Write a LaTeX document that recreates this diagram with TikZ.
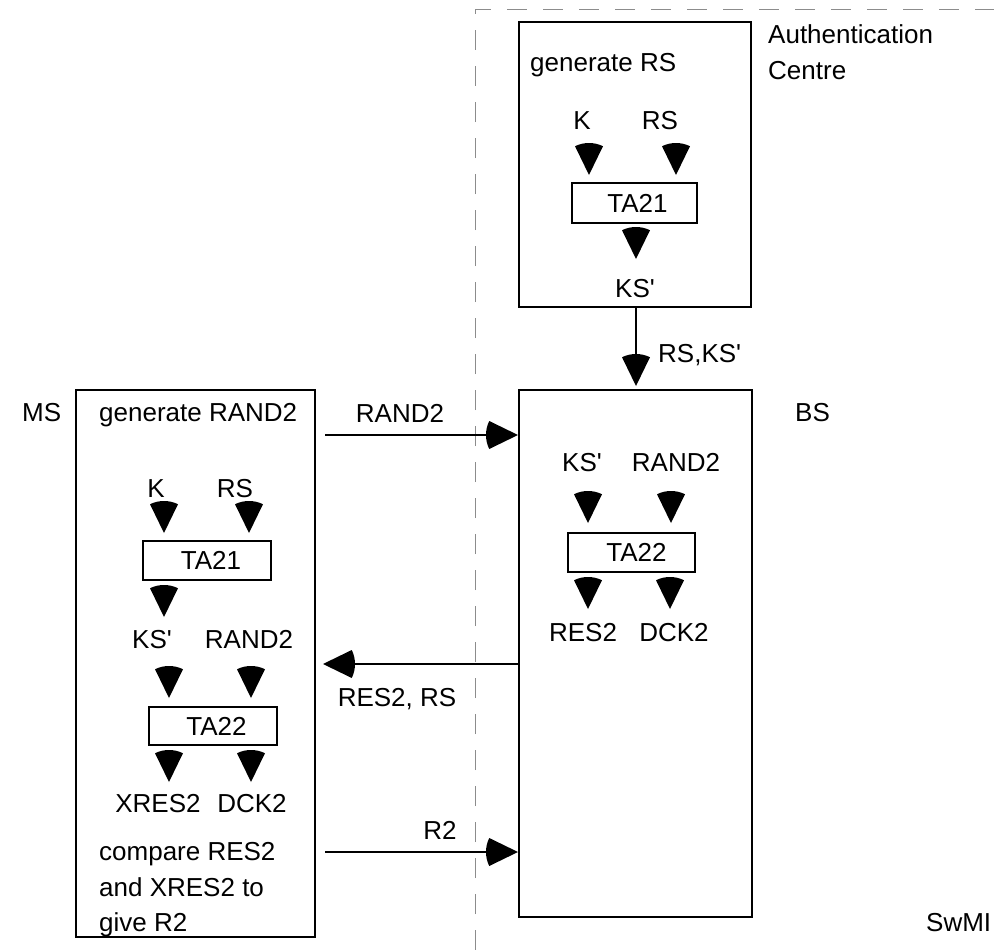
\documentclass[tikz,border=0pt]{standalone}
\usepackage{fontspec}
\setmainfont{Liberation Sans}
\usetikzlibrary{arrows.meta}

% Filled circular-sector arrow head (tip at the origin, curved back)
\pgfdeclarearrow{
  name = Wedge,
  parameters = {\the\pgfarrowlength,\the\pgfarrowwidth},
  setup code = {
    \pgfarrowssettipend{0pt}
    \pgfarrowssetlineend{-.5\pgfarrowlength}
    \pgfarrowssetbackend{-\pgfarrowlength}
    \pgfarrowshullpoint{0pt}{0pt}
    \pgfarrowshullpoint{-\pgfarrowlength}{.5\pgfarrowwidth}
    \pgfarrowshullpoint{-\pgfarrowlength}{-.5\pgfarrowwidth}
    \pgfarrowssavethe\pgfarrowlength
    \pgfarrowssavethe\pgfarrowwidth
  },
  drawing code = {
    \pgfmathsetmacro\wedgehalf{asin(0.5*\pgfarrowwidth/\pgfarrowlength)}
    \pgfmathsetmacro\wedgea{180-\wedgehalf}
    \pgfmathsetmacro\wedgeb{180+\wedgehalf}
    \pgfpathmoveto{\pgfpointorigin}
    \pgfpathlineto{\pgfpointpolar{\wedgea}{\pgfarrowlength}}
    \pgfpatharc{\wedgea}{\wedgeb}{\pgfarrowlength}
    \pgfpathclose
    \pgfusepathqfill
  },
  defaults = {length = 32pt, width = 28pt}
}

% straight prime as printed in the key names
\newcommand{\prm}{\textquotesingle}

\begin{document}
\begin{tikzpicture}[x=1pt, y=-1pt,
  font=\fontsize{26}{31}\selectfont,
  lbl/.style={anchor=base, inner sep=0pt},
  lblw/.style={anchor=base west, inner sep=0pt},
  frame/.style={draw, line width=2pt, inner sep=0pt, outer sep=0pt, anchor=north west},
  fnbox/.style={draw, line width=2pt, inner sep=0pt, outer sep=0pt},
  flow/.style={line width=2pt, -{Wedge}},
  feed/.style={line width=0.6pt, -{Wedge}},
  swmiedge/.style={draw=black!45, line width=1pt, dash pattern=on 20pt off 16pt}
]
\useasboundingbox (0,0) rectangle (994,950);

% SwMI domain boundary
\coordinate (dtop) at (475,10);
\coordinate (dbot) at (475,950);
\coordinate (dright) at (994,10);
\draw[swmiedge] (dbot) -- (dtop) -- (dright);

% ---------- Authentication Centre ----------
\node[frame, minimum width=232pt, minimum height=285pt] (auc) at (519,22) {};
\node[lblw] (genrs) at (530,71) {generate RS};
\node[lblw] (authc) at (768,44) {Authentication};
\node[lblw] (centre) at (768,80) {Centre};
\node[lbl] (aK) at (582,129) {K};
\node[lbl] (aRS) at (660,129) {RS};
\node[fnbox, minimum width=125pt, minimum height=40pt] (aTA) at (634.5,203) {\hspace{6pt}TA21};
\node[lbl] (aKS) at (635,297) {KS\prm};
\draw[feed] (589,143) -- (589,175);
\draw[feed] (676,143) -- (676,175);
\draw[feed] (636,227) -- (636,259);

% ---------- Base station ----------
\node[frame, minimum width=233pt, minimum height=527pt] (bs) at (519,390) {};
\node[lblw] (bsl) at (795,421) {BS};
\node[lbl] (bKS) at (582,471) {KS\prm};
\node[lbl] (bRAND) at (676,471) {RAND2};
\node[fnbox, minimum width=127pt, minimum height=39pt] (bTA) at (631.5,552.5) {\hspace{10pt}TA22};
\node[lbl] (bRES) at (583,641) {RES2};
\node[lbl] (bDCK) at (674,641) {DCK2};
\draw[feed] (588,491) -- (588,523);
\draw[feed] (671,491) -- (671,523);
\draw[feed] (588,577) -- (588,609);
\draw[feed] (670,577) -- (670,609);

% ---------- Mobile station ----------
\node[frame, minimum width=239pt, minimum height=547pt] (ms) at (76,390) {};
\node[lblw] (msl) at (22,421) {MS};
\node[lblw] (genrand) at (99,421) {generate RAND2};
\node[lbl] (mK) at (156,497) {K};
\node[lbl] (mRS) at (235,497) {RS};
\node[fnbox, minimum width=128pt, minimum height=39pt] (mTA1) at (207,560.5) {\hspace{8pt}TA21};
\node[lbl] (mKS) at (152,648) {KS\prm};
\node[lbl] (mRAND) at (249,648) {RAND2};
\node[fnbox, minimum width=128pt, minimum height=38pt] (mTA2) at (212.5,726) {\hspace{8pt}TA22};
\node[lbl] (mXRES) at (158,812) {XRES2};
\node[lbl] (mDCK) at (252,812) {DCK2};
\node[lblw] (cmp1) at (99,860) {compare RES2};
\node[lblw] (cmp2) at (99,896) {and XRES2 to};
\node[lblw] (cmp3) at (99,931) {give R2};
\draw[feed] (164,501) -- (164,533);
\draw[feed] (249,501) -- (249,533);
\draw[feed] (164,585) -- (164,617);
\draw[feed] (169,666) -- (169,698);
\draw[feed] (251,666) -- (251,698);
\draw[feed] (169,750) -- (169,782);
\draw[feed] (251,750) -- (251,782);

\node[lblw] (swmi) at (926,931) {SwMI};

% ---------- Messages ----------
\coordinate (kslow) at (636,307);
\draw[flow, shorten >=4pt] (kslow) -- (kslow |- bs.north);
\node[lblw] (rsks) at (658,362) {RS,KS\prm};

\coordinate (m1) at (325,435);
\draw[flow, shorten >=1pt] (m1) -- (m1 -| bs.west);
\node[lbl] (m1l) at (400,422) {RAND2};

\coordinate (m2) at (323,664);
\draw[flow] (m2 -| bs.west) -- (m2);
\node[lbl] (m2l) at (397,706) {RES2, RS};

\coordinate (m3) at (325,852);
\draw[flow, shorten >=1pt] (m3) -- (m3 -| bs.west);
\node[lbl] (m3l) at (440,839) {R2};
\end{tikzpicture}
\end{document}
